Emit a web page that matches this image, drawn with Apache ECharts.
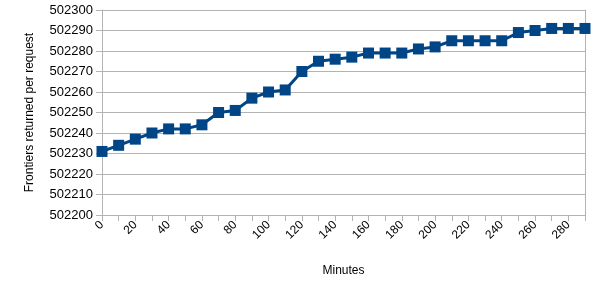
<!DOCTYPE html>
<html><head><meta charset="utf-8">
<script src="https://cdn.jsdelivr.net/npm/echarts@6/dist/echarts.min.js"></script>
<style>html,body{margin:0;padding:0;background:#fff}#c{width:596px;height:296px}</style>
</head><body><div id="c"></div>
<script>
const minutes = [0,10,20,30,40,50,60,70,80,90,100,110,120,130,140,150,160,170,180,190,200,210,220,230,240,250,260,270,280,290];
const frontiers = [502231,502234,502237,502240,502242,502242,502244,502250,502251,502257,502260,502261,502270,502275,502276,502277,502279,502279,502279,502281,502282,502285,502285,502285,502285,502289,502290,502291,502291,502291];
const yMin = 502200, yMax = 502300, yStep = 10;

const chart = echarts.init(document.getElementById('c'), null, {renderer:'canvas'});
const font = 'Liberation Sans';
chart.setOption({
  animation:false,
  grid:{left:102,right:11,top:10,bottom:81,containLabel:false},
  xAxis:{
    type:'category', data:minutes.map(String), boundaryGap:false,
    name:'Minutes', nameLocation:'middle', nameGap:50,
    nameTextStyle:{fontFamily:font,fontSize:12,color:'#000'},
    axisLine:{show:true,lineStyle:{color:'#b3b3b3',width:1}},
    axisTick:{show:true,interval:0,length:6,lineStyle:{color:'#b3b3b3'}},
    axisLabel:{interval:1,rotate:45,fontFamily:font,fontSize:12,color:'#000',margin:8},
    splitLine:{show:false}
  },
  yAxis:[{
    type:'value', min:yMin, max:yMax, interval:yStep,
    name:'Frontiers returned per request', nameLocation:'middle', nameGap:66,
    nameTextStyle:{fontFamily:font,fontSize:12,color:'#000'},
    axisLine:{show:true,lineStyle:{color:'#b3b3b3',width:1}},
    axisTick:{show:true,length:6,lineStyle:{color:'#b3b3b3'}},
    axisLabel:{fontFamily:font,fontSize:13,color:'#000',margin:9,formatter:v=>String(v)},
    splitLine:{show:true,lineStyle:{color:'#b3b3b3',width:1}}
  },{
    type:'value', min:yMin, max:yMax, interval:yStep, position:'right',
    axisLine:{show:true,lineStyle:{color:'#b3b3b3',width:1}},
    axisTick:{show:false}, axisLabel:{show:false}, splitLine:{show:false}
  }],
  series:[{
    type:'line', data:frontiers, yAxisIndex:0,
    symbol:'rect', symbolSize:11, showAllSymbol:true,
    lineStyle:{color:'#004586',width:3},
    itemStyle:{color:'#004586'}
  }]
});
</script></body></html>
